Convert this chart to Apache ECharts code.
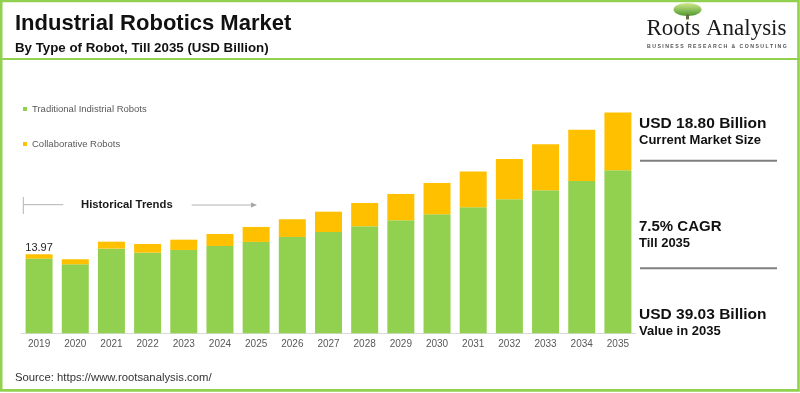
<!DOCTYPE html>
<html>
<head>
<meta charset="utf-8">
<script src="https://cdn.jsdelivr.net/npm/echarts@6/dist/echarts.min.js"></script>
<style>
html,body{margin:0;padding:0;background:#fff;}
#chart{width:800px;height:393px;}
</style>
</head>
<body>
<div id="chart"></div>
<script>
var categories = ['2019','2020','2021','2022','2023','2024','2025','2026','2027','2028','2029','2030','2031','2032','2033','2034','2035'];
var traditional = [13.20, 12.20, 14.96, 14.25, 14.73, 15.44, 16.15, 17.03, 17.91, 18.92, 19.98, 21.04, 22.28, 23.70, 25.29, 26.93, 28.82];
var collaborative = [0.77, 0.89, 1.24, 1.54, 1.82, 2.12, 2.65, 3.13, 3.59, 4.12, 4.65, 5.54, 6.30, 7.12, 8.13, 9.07, 10.21];
var seriesNames = ['Traditional Indistrial Robots', 'Collaborative Robots'];

var SANS = '"Liberation Sans", Arial, sans-serif';
var SERIF = '"Liberation Serif", "Times New Roman", serif';
var GREEN = '#92d050', YELLOW = '#ffc000';

function txt(text, x, y, size, weight, color, family, align) {
  return {
    type: 'text', silent: true,
    style: {
      text: text, x: x, y: y,
      font: (weight || 'normal') + ' ' + size + 'px ' + (family || SANS),
      fill: color || '#1a1a1a',
      align: align || 'left', verticalAlign: 'middle',
      textAlign: align || 'left', textVerticalAlign: 'middle'
    }
  };
}
function line(x1, y1, x2, y2, color, w) {
  return { type: 'line', silent: true, shape: {x1:x1, y1:y1, x2:x2, y2:y2}, style: {stroke: color, lineWidth: w} };
}

var collabData = collaborative.map(function (v, i) {
  if (i === 0) {
    return {
      value: v,
      label: {
        show: true, position: 'top', distance: 1,
        fontSize: 11, color: '#262626', fontFamily: SANS,
        formatter: function () { return (traditional[0] + collaborative[0]).toFixed(2); }
      }
    };
  }
  return v;
});

var chart = echarts.init(document.getElementById('chart'), null, {renderer: 'canvas'});
chart.setOption({
  animation: false,
  backgroundColor: '#ffffff',
  grid: {left: 21, right: 164, top: 107, bottom: 59.7, containLabel: false},
  legend: {
    data: seriesNames, orient: 'vertical', left: 23, top: 103, padding: 0,
    itemWidth: 4, itemHeight: 4, itemGap: 23, icon: 'rect', selectedMode: false,
    textStyle: {fontSize: 9.5, color: '#595959', fontFamily: SANS, lineHeight: 12}
  },
  xAxis: {
    type: 'category', data: categories,
    axisTick: {show: false},
    axisLine: {lineStyle: {color: '#d9d9d9', width: 1}},
    axisLabel: {fontSize: 10, color: '#595959', fontFamily: SANS, margin: 6}
  },
  yAxis: {type: 'value', min: 0, max: 40, show: false, splitLine: {show: false}},
  series: [
    {name: seriesNames[0], type: 'bar', stack: 'total', barWidth: 27, data: traditional, itemStyle: {color: GREEN}},
    {name: seriesNames[1], type: 'bar', stack: 'total', barWidth: 27, data: collabData, itemStyle: {color: YELLOW}}
  ],
  graphic: [
    // frame
    {type: 'rect', silent: true, shape: {x: 1.2, y: 0.9, width: 797.3, height: 389.5}, style: {fill: 'none', stroke: GREEN, lineWidth: 2.6}},
    line(0, 59, 800, 59, GREEN, 2),
    // title
    txt('Industrial Robotics Market', 15, 24, 22, 'bold', '#111'),
    txt('By Type of Robot, Till 2035 (USD Billion)', 15, 48, 13.3, 'bold', '#111'),
    // logo
    {type: 'ellipse', silent: true, shape: {cx: 687.5, cy: 9.5, rx: 14, ry: 6.5},
      style: {fill: new echarts.graphic.LinearGradient(0, 0, 0, 1, [{offset: 0, color: '#d2e88c'}, {offset: 1, color: '#4d9a2c'}])}},
    {type: 'rect', silent: true, shape: {x: 686, y: 14.5, width: 3, height: 5}, style: {fill: '#5f7040'}},
    txt('Roots Analysis', 646.5, 29, 23, 'normal', '#1a1a1a', SERIF),
    txt('B U S I N E S S   R E S E A R C H   &   C O N S U L T I N G', 647, 47, 5.2, 'bold', '#555'),
    // historical trends
    line(23.3, 197, 23.3, 214, '#b3b3b3', 1),
    line(23.3, 204.7, 63.3, 204.7, '#b3b3b3', 1),
    txt('Historical Trends', 81, 204.5, 11.3, 'bold', '#1a1a1a'),
    line(191.7, 205, 252, 205, '#b3b3b3', 1),
    {type: 'polygon', silent: true, shape: {points: [[251, 202.5], [257, 205], [251, 207.5]]}, style: {fill: '#a6a6a6'}},
    // right panel
    txt('USD 18.80 Billion', 639, 123.3, 15.5, 'bold', '#111'),
    txt('Current Market Size', 639, 140, 13, 'bold', '#111'),
    line(640, 160.7, 777, 160.7, '#7f7f7f', 2),
    txt('7.5% CAGR', 639, 227, 15, 'bold', '#111'),
    txt('Till 2035', 639, 243.7, 13, 'bold', '#111'),
    line(640, 268.3, 777, 268.3, '#7f7f7f', 2),
    txt('USD 39.03 Billion', 639, 315, 15.5, 'bold', '#111'),
    txt('Value in 2035', 639, 331, 13, 'bold', '#111'),
    // source
    txt('Source: https://www.rootsanalysis.com/', 15, 378.3, 11.3, 'normal', '#333')
  ]
});
</script>
</body>
</html>
